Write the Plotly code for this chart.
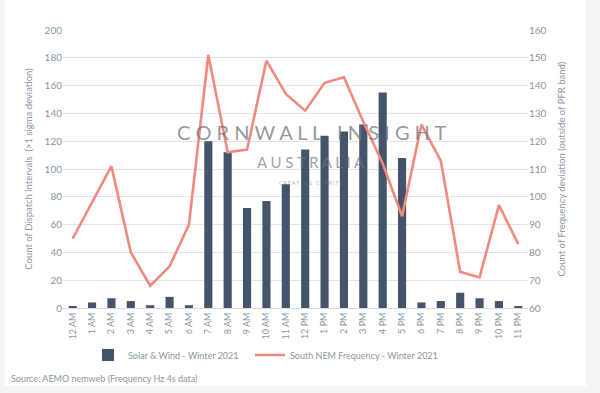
import plotly.graph_objects as go

hours = ["12 AM", "1 AM", "2 AM", "3 AM", "4 AM", "5 AM", "6 AM", "7 AM", "8 AM", "9 AM",
         "10 AM", "11 AM", "12 PM", "1 PM", "2 PM", "3 PM", "4 PM", "5 PM", "6 PM", "7 PM",
         "8 PM", "9 PM", "10 PM", "11 PM"]
solar_wind = [1, 4, 7, 5, 2, 8, 2, 120, 112, 72, 77, 89, 114, 124, 127, 132, 155, 108,
              4, 5, 11, 7, 5, 1]
nem_freq = [85, 98, 111, 80, 68, 75, 90, 151, 116, 117, 149, 137, 131, 141, 143, 127,
            112, 93, 126, 113, 73, 71, 97, 83]

left_ticks = list(range(0, 201, 20))
right_ticks = list(range(60, 161, 10))

TXT = "#8B95A3"
FONT = "Lato"

fig = go.Figure()
fig.add_trace(go.Bar(x=hours, y=solar_wind, name="Solar & Wind - Winter 2021",
                     marker=dict(color="#44546A", line=dict(width=0)), width=0.42,
                     legend="legend"))
fig.add_trace(go.Scatter(x=hours, y=nem_freq, name="South NEM Frequency - Winter 2021",
                         mode="lines", line=dict(color="#F08A7E", width=2.6), yaxis="y2",
                         legend="legend2"))

W, H = 600, 393
ml, mr, mt, mb = 63, 72, 30, 85
pw, ph = W - ml - mr, H - mt - mb

def px(x):
    return (x - ml) / pw

def py(y):
    return (H - mb - y) / ph

legend_common = dict(orientation="h", yanchor="middle", y=py(355), xanchor="left",
                     font=dict(family=FONT, size=9, color=TXT), bgcolor="rgba(0,0,0,0)")

fig.update_layout(
    width=W, height=H,
    margin=dict(l=ml, r=mr, t=mt, b=mb),
    paper_bgcolor="#F4F4F4",
    plot_bgcolor="rgba(0,0,0,0)",
    font=dict(family=FONT, color=TXT, size=10),
    showlegend=True,
    legend=dict(x=px(88), **legend_common),
    legend2=dict(x=px(250), **legend_common),
    xaxis=dict(type="category", tickangle=-90, tickfont=dict(size=9, color=TXT),
               showgrid=False, showline=True, linecolor="#D9D9D9", ticks="",
               range=[-0.5, 23.5], automargin=False),
    yaxis=dict(range=[0, 200], tickvals=left_ticks, showgrid=True, gridcolor="#E3E3E3",
               zeroline=False, tickfont=dict(size=10, color=TXT), ticklen=0,
               automargin=False,
               title=dict(text="Count of Dispatch intervals  (>1 sigma deviation)",
                          font=dict(size=9.5, color=TXT), standoff=10)),
    yaxis2=dict(range=[60, 160], tickvals=right_ticks, overlaying="y", side="right",
                showgrid=False, zeroline=False, tickfont=dict(size=10, color=TXT),
                automargin=False,
                title=dict(text="Count of Frequency deviation (outside of PFR band)",
                           font=dict(size=9.5, color=TXT), standoff=12)),
    bargap=0.5,
)

# white card behind the chart
fig.add_shape(type="rect", xref="paper", yref="paper", layer="below",
              x0=px(5), x1=px(586), y0=py(386), y1=py(-5),
              fillcolor="white", line=dict(width=0))

# watermark
fig.add_annotation(text="C O R N W A L L   I N S I G H T", x=px(311), y=py(132),
                   xref="paper", yref="paper", showarrow=False,
                   font=dict(family="Lato", size=20, color="rgba(110,118,130,0.75)"))
fig.add_annotation(text="A U S T R A L I A", x=px(311), y=py(162),
                   xref="paper", yref="paper", showarrow=False,
                   font=dict(family="Lato", size=15, color="rgba(110,118,130,0.7)"))
fig.add_annotation(text="C R E A T I N G   C L A R I T Y", x=px(311), y=py(183),
                   xref="paper", yref="paper", showarrow=False,
                   font=dict(family="Lato", size=5, color="rgba(110,118,130,0.6)"))

# source
fig.add_annotation(text="Source: AEMO nemweb (Frequency Hz 4s data)", x=px(9), y=py(378),
                   xref="paper", yref="paper", showarrow=False, xanchor="left",
                   yanchor="middle",
                   font=dict(family=FONT, size=9, color=TXT))

fig.write_html("out.html", config={"displayModeBar": False},
               post_script="document.body.style.margin='0';document.body.style.overflow='hidden';")
